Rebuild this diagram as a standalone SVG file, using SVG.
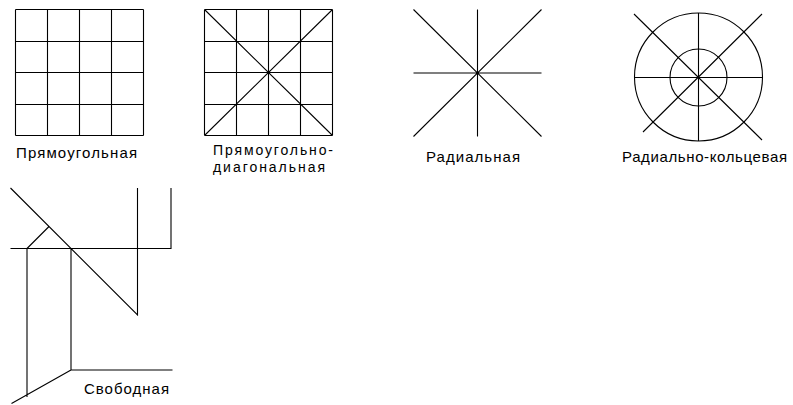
<svg xmlns="http://www.w3.org/2000/svg" width="793" height="405" viewBox="0 0 793 405">
<style>
.l{stroke:#000;stroke-width:1.1;fill:none}
.t{font-family:"Liberation Sans",Arial,sans-serif;font-size:15px;fill:#000}
.s{font-size:14px}
</style>
<rect width="793" height="405" fill="#fff"/>
<g id="rect-grid">
<path class="l" d="M15.5 9.5V135.5M47.5 9.5V135.5M79.5 9.5V135.5M111.5 9.5V135.5M143.5 9.5V135.5M15.5 9.5H143.5M15.5 41.5H143.5M15.5 72.5H143.5M15.5 104.5H143.5M15.5 135.5H143.5"/>
<text class="t" x="16" y="158" textLength="121" lengthAdjust="spacing">Прямоугольная</text>
</g>
<g id="rect-diag-grid">
<path class="l" d="M204.5 9.5V135.5M236.5 9.5V135.5M268.5 9.5V135.5M300.5 9.5V135.5M332.5 9.5V135.5M204.5 9.5H332.5M204.5 41.5H332.5M204.5 72.5H332.5M204.5 104.5H332.5M204.5 135.5H332.5M204.5 9.5L332.5 135.5M332.5 9.5L204.5 135.5"/>
<text class="t s" x="213" y="155" textLength="120" lengthAdjust="spacing">Прямоугольно-</text>
<text class="t s" x="213" y="171.5" textLength="112" lengthAdjust="spacing">диагональная</text>
</g>
<g id="radial">
<path class="l" d="M413.5 73H541.5M477.5 9.5V136.5M413.5 9.5L541.5 136.5M541.5 9.5L413.5 136.5"/>
<text class="t" x="426" y="162" textLength="94" lengthAdjust="spacing">Радиальная</text>
</g>
<g id="radial-ring">
<circle class="l" cx="698.5" cy="77" r="64"/>
<circle class="l" cx="698.5" cy="77.5" r="28.5"/>
<path class="l" d="M634.5 77.5H762.5M698.5 13V141M634 14L762 140M762 14L643 132"/>
<text class="t" x="622" y="162" textLength="165" lengthAdjust="spacing">Радиально-кольцевая</text>
</g>
<g id="free">
<path class="l" d="M10.5 188L137.5 315V188M10.5 248.5H171V188M27 248.5L49 226.5M27 248.5V397M71 248.5V370H172.5M71 370L11.5 403.5"/>
<text class="t" x="84" y="394" textLength="85" lengthAdjust="spacing">Свободная</text>
</g>
</svg>
